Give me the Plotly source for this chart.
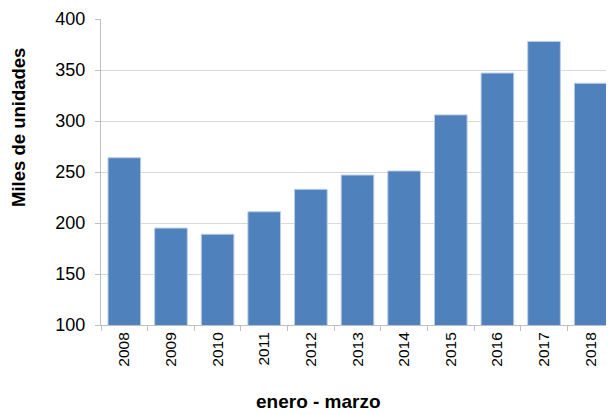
import plotly.graph_objects as go

years = ["2008", "2009", "2010", "2011", "2012", "2013", "2014", "2015", "2016", "2017", "2018"]
values = [264, 195, 189, 211, 233, 247, 251, 306, 347, 378, 337]
y_ticks = [100, 150, 200, 250, 300, 350, 400]

# page body has an 8px default margin; compensate so the plot lands where the reference has it
OFF = 8
L, R, T, B = 101 - OFF, 0, 19 - OFF, 89
W, H = 614 - OFF, 414 - OFF
pw, ph = W - L - R, H - T - B

fig = go.Figure(go.Bar(
    x=years, y=values,
    marker=dict(color="#4F81BD", line=dict(color="#BCCDE6", width=1)),
    width=0.70,
))

fig.update_layout(
    width=W, height=H,
    margin=dict(l=L, r=R, t=T, b=B),
    paper_bgcolor="white", plot_bgcolor="white",
    font=dict(family="Liberation Sans, Arial, sans-serif", color="black"),
    showlegend=False,
    xaxis=dict(
        type="category",
        tickangle=-90,
        tickfont=dict(size=15.5),
        showline=True, linecolor="#BFBFBF", linewidth=1,
        ticks="outside", tickson="boundaries", ticklen=5, tickcolor="#BFBFBF",
        showgrid=False, automargin=False,
    ),
    yaxis=dict(
        range=[100, 400],
        tickvals=y_ticks,
        tickfont=dict(size=18),
        showline=True, linecolor="#BFBFBF", linewidth=1,
        ticks="outside", ticklen=5, tickcolor="#BFBFBF",
        ticklabelstandoff=6,
        showgrid=True, gridcolor="#D9D9D9", gridwidth=1,
        zeroline=False, automargin=False,
    ),
    annotations=[
        dict(text="<b>Miles de unidades</b>", textangle=-90,
             xref="paper", yref="paper",
             x=(19 - OFF - L) / pw, y=(325 - 128) / ph,
             xanchor="center", yanchor="middle", showarrow=False,
             font=dict(size=18.5)),
        dict(text="<b>enero - marzo</b>",
             xref="paper", yref="paper",
             x=(318 - 101) / pw, y=-(401 - 325) / ph,
             xanchor="center", yanchor="middle", showarrow=False,
             font=dict(size=19)),
    ],
)

fig.write_html("out.html")
